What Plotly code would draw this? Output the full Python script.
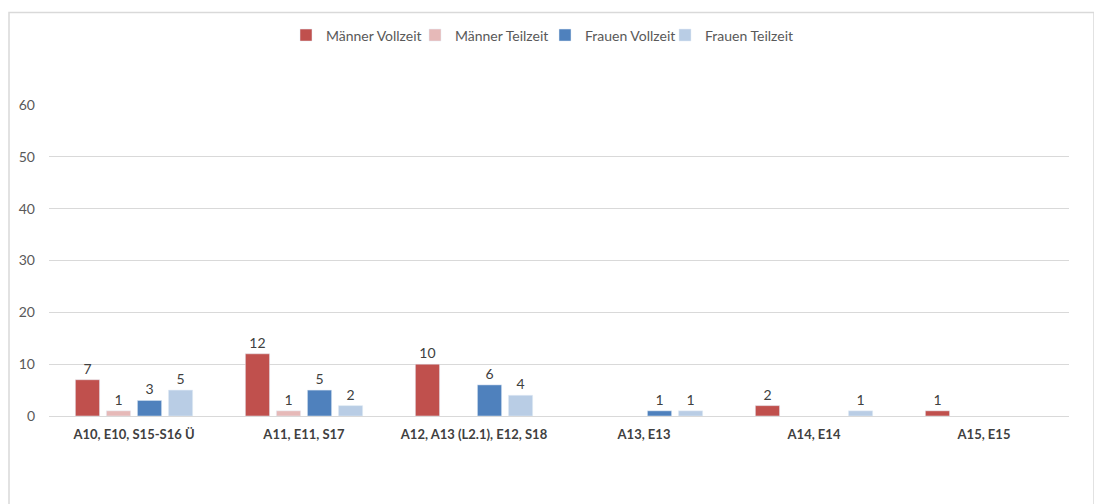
import plotly.graph_objects as go

categories = ["A10, E10, S15-S16 Ü", "A11, E11, S17", "A12, A13 (L2.1), E12, S18",
              "A13, E13", "A14, E14", "A15, E15"]
maenner_vollzeit = [7, 12, 10, None, 2, 1]
maenner_teilzeit = [1, 1, None, None, None, None]
frauen_vollzeit = [3, 5, 6, 1, None, None]
frauen_teilzeit = [5, 2, 4, 1, 1, None]

series = [
    ("Männer Vollzeit", maenner_vollzeit, "#C0504D"),
    ("Männer Teilzeit", maenner_teilzeit, "#E6B9B8"),
    ("Frauen Vollzeit", frauen_vollzeit, "#4F81BD"),
    ("Frauen Teilzeit", frauen_teilzeit, "#B9CDE5"),
]

FONT = "Lato, Open Sans, sans-serif"

# page body has an 8px margin; work in absolute window coordinates
OFF = 8
W, H = 1102 - OFF, 504 - OFF
PL, PR, PT, PB = 49, 1069, 103, 416  # absolute plot-area edges
L, T = PL - OFF, PT - OFF
R = W - (PR - OFF)
B = H - (PB - OFF)
pw, ph = PR - PL, PB - PT

def px(x):
    return (x - PL) / pw

def py(y):
    return (PB - y) / ph

legend_text_x = [326, 455, 585, 705]
legend_names = ["legend", "legend2", "legend3", "legend4"]

fig = go.Figure()
for (name, vals, color), lg in zip(series, legend_names):
    fig.add_trace(go.Bar(
        name=name, x=categories, y=vals, marker_color=color,
        text=[str(v) if v is not None else "" for v in vals],
        textposition="outside", cliponaxis=False,
        textfont=dict(size=14, color="#404040", family=FONT),
        legend=lg, showlegend=True,
    ))

legend_layout = {}
for lg, tx in zip(legend_names, legend_text_x):
    legend_layout[lg] = dict(
        x=px(tx - 40), xanchor="left", y=py(33), yanchor="middle",
        font=dict(size=14, color="#595959"), itemwidth=30, itemclick=False,
        bgcolor="rgba(0,0,0,0)")

fig.update_layout(
    width=W, height=H,
    showlegend=True,
    margin=dict(l=L, r=R, t=T, b=B),
    paper_bgcolor="white", plot_bgcolor="white",
    barmode="group", bargap=0.27, bargroupgap=0.22,
    font=dict(family=FONT, color="#595959"),
    xaxis=dict(showgrid=False, showline=True, linecolor="#D9D9D9", linewidth=1,
               ticks="", tickfont=dict(size=13, color="#404040", family=FONT, weight="bold"),
               ticklabelstandoff=6),
    yaxis=dict(range=[0, 60], dtick=10, showgrid=True, gridcolor="#D9D9D9", gridwidth=1,
               zeroline=False, showline=False, ticks="",
               tickfont=dict(size=14, color="#595959"), ticklabelstandoff=13),
    shapes=[dict(type="rect", xref="paper", yref="paper",
                 x0=px(9), x1=px(1094), y0=py(10), y1=py(540),
                 line=dict(color="#D9D9D9", width=1.5), fillcolor="rgba(0,0,0,0)", layer="below")],
    **legend_layout,
)

fig.write_html("out.html")
